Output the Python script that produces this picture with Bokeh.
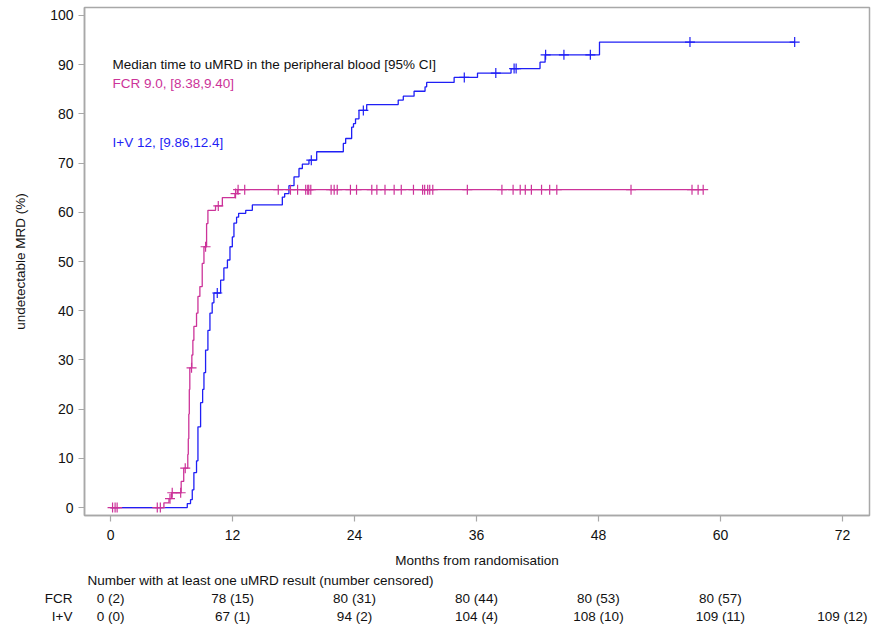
import numpy as np
from bokeh.plotting import figure
from bokeh.models import Range1d, FixedTicker, ColumnDataSource
from bokeh.layouts import column
from bokeh.embed import file_html
from bokeh.resources import INLINE
from bokeh.core.properties import value

FONT = "Liberation Sans"
FCR_COLOR = "#CC3399"
IV_COLOR = "#1F1FF5"
FRAME_COLOR = "#A8A8A8"
TXT = "#111111"
FS = "13.5px"

# ---- FCR arm: event times (months) and cumulative % with uMRD after each step
fcr_event_t = [5.25, 5.75, 6.0, 6.95, 7.2, 7.6, 7.65, 7.7, 7.75, 7.8, 8.0, 8.1, 8.2,
               8.46, 8.6, 8.79, 9.02, 9.19, 9.45, 9.58, 10.33, 11.0, 12.24, 12.47]
fcr_event_pct = [0.95, 1.8, 3.0, 5.3, 8.0, 10.8, 14.0, 19.0, 24.0, 28.4, 31.0, 34.0, 36.8,
                 39.5, 42.9, 44.9, 49.6, 53.0, 57.7, 60.4, 61.3, 63.0, 63.8, 64.6]
fcr_cens_t = [0.2, 0.45, 0.65, 4.6, 4.9, 5.85, 6.07, 6.9, 7.35, 7.97, 9.35, 10.6, 12.3,
              12.55, 13.2, 16.5, 17.7, 18.4, 19.2, 19.4, 19.5, 19.7, 21.7, 22.0, 22.3,
              23.6, 24.2, 25.7, 26.2, 27.0, 27.9, 28.6, 29.8, 30.7, 30.9, 31.2, 31.4,
              31.7, 35.1, 38.5, 39.6, 40.3, 40.8, 41.4, 42.4, 43.2, 43.9, 51.2, 57.2,
              57.8, 58.3]

# ---- I+V arm
iv_event_t = [7.55, 7.87, 8.04, 8.2, 8.46, 8.6, 8.86, 9.06, 9.19, 9.35, 9.58, 9.78,
              10.0, 10.17, 10.83, 11.15, 11.5, 11.75, 11.98, 12.14, 12.4, 12.6, 13.3,
              13.95, 16.9, 17.13, 17.55, 18.05, 18.54, 18.87, 19.52, 20.28, 22.9, 23.13,
              23.72, 23.9, 24.1, 24.44, 25.2, 28.3, 28.8, 29.86, 30.94, 31.1, 33.8,
              36.1, 39.4, 42.25, 42.75, 48.1]
iv_event_pct = [0.8, 1.6, 3.6, 7.1, 9.5, 16.4, 21.3, 24.0, 27.4, 32.0, 36.0, 39.5,
                41.6, 43.6, 46.2, 48.7, 50.3, 53.0, 55.0, 57.8, 59.0, 59.8, 60.4,
                61.5, 63.1, 63.8, 65.4, 67.2, 68.9, 69.8, 70.6, 72.3, 74.0, 75.0,
                77.3, 78.0, 79.0, 80.7, 81.9, 82.8, 83.6, 84.6, 85.5, 86.4, 87.4,
                88.3, 89.2, 90.5, 92.0, 94.6]
iv_cens_t = [10.5, 19.75, 24.87, 34.8, 37.9, 39.7, 39.9, 42.8, 44.6, 47.2, 57.0, 67.3]

# ---- risk table
risk_times = [0, 12, 24, 36, 48, 60, 72]
fcr_risk = ["0 (2)", "78 (15)", "80 (31)", "80 (44)", "80 (53)", "80 (57)", ""]
iv_risk = ["0 (0)", "67 (1)", "94 (2)", "104 (4)", "108 (10)", "109 (11)", "109 (12)"]
arm_names = ["FCR", "I+V"]
risk_header = "Number with at least one uMRD result (number censored)"

# ---- annotation texts
median_title = "Median time to uMRD in the peripheral blood [95% CI]"
fcr_median = "FCR 9.0, [8.38,9.40]"
iv_median = "I+V 12, [9.86,12.4]"

x_ticks = [0, 12, 24, 36, 48, 60, 72]
y_ticks = [0, 10, 20, 30, 40, 50, 60, 70, 80, 90, 100]

X0, X1 = -2.56, 74.66
Y0, Y1 = -1.62, 101.62
W = 879
BL, BR, BT = 84, 10, 7


def step_curve(ev_t, ev_p, end_t):
    xs = [0.0] + list(ev_t) + [end_t]
    ys = [0.0] + list(ev_p) + [ev_p[-1]]
    return xs, ys


def value_at(ev_t, ev_p, times):
    ev_t = np.asarray(ev_t)
    ev_p = np.asarray(ev_p)
    out = []
    for t in times:
        idx = np.searchsorted(ev_t, t, side="right") - 1
        out.append(0.0 if idx < 0 else float(ev_p[idx]))
    return out


xr = Range1d(X0, X1)
p = figure(width=W, height=570, x_range=xr, y_range=Range1d(Y0, Y1),
           output_backend="svg", toolbar_location=None,
           min_border_left=BL, min_border_right=BR, min_border_top=BT, min_border_bottom=54)
p.background_fill_color = "white"
p.border_fill_color = "white"
p.outline_line_color = FRAME_COLOR
p.outline_line_width = 1.5
p.xgrid.visible = False
p.ygrid.visible = False

for ax in (p.xaxis, p.yaxis):
    ax.axis_line_color = FRAME_COLOR
    ax.axis_line_width = 1.5
    ax.major_tick_line_color = FRAME_COLOR
    ax.major_tick_line_width = 1.2
    ax.major_tick_out = 6
    ax.major_tick_in = 0
    ax.minor_tick_line_color = None
    ax.major_label_text_font = FONT
    ax.major_label_text_font_size = "14px"
    ax.major_label_text_color = TXT
    ax.axis_label_text_font = FONT
    ax.axis_label_text_font_size = FS
    ax.axis_label_text_font_style = "normal"
    ax.axis_label_text_color = TXT

p.xaxis.ticker = FixedTicker(ticks=x_ticks)
p.yaxis.ticker = FixedTicker(ticks=y_ticks)
p.xaxis.axis_label = "Months from randomisation"
p.yaxis.axis_label = "undetectable MRD (%)"
p.xaxis.major_label_standoff = 8
p.xaxis.axis_label_standoff = 10
p.yaxis.major_label_standoff = 5
p.yaxis.axis_label_standoff = 19

# curves
fx, fy = step_curve(fcr_event_t, fcr_event_pct, max(fcr_cens_t))
ix, iy = step_curve(iv_event_t, iv_event_pct, max(iv_cens_t))
p.step(fx, fy, mode="after", line_color=FCR_COLOR, line_width=1.3)
p.step(ix, iy, mode="after", line_color=IV_COLOR, line_width=1.3)

p.scatter(fcr_cens_t, value_at(fcr_event_t, fcr_event_pct, fcr_cens_t), marker="cross",
          size=10, line_color=FCR_COLOR, line_width=1.2)
p.scatter(iv_cens_t, value_at(iv_event_t, iv_event_pct, iv_cens_t), marker="cross",
          size=10, line_color=IV_COLOR, line_width=1.2)

# median annotations
p.text(x=[0.2], y=[90.1], text=[median_title], text_font=value(FONT), text_font_size=FS,
       text_color=TXT, text_baseline="middle")
p.text(x=[0.2], y=[86.1], text=[fcr_median], text_font=value(FONT), text_font_size=FS,
       text_color=FCR_COLOR, text_baseline="middle")
p.text(x=[0.2], y=[74.1], text=[iv_median], text_font=value(FONT), text_font_size=FS,
       text_color=IV_COLOR, text_baseline="middle")

# ---- risk table figure, sharing the x scale; arm names drawn as its y-axis labels
sx = (W - BL - BR) / (X1 - X0)
row_y = [30, 12]
header_y = 48
t = figure(width=W, height=58, x_range=xr, y_range=Range1d(0, 58),
           output_backend="svg", toolbar_location=None,
           min_border_left=BL, min_border_right=BR, min_border_top=0, min_border_bottom=0)
t.xaxis.visible = False
t.xgrid.visible = False
t.ygrid.visible = False
t.outline_line_color = None
t.background_fill_color = "white"
t.border_fill_color = "white"
t.yaxis.ticker = FixedTicker(ticks=row_y)
t.yaxis.major_label_overrides = {yy: nm for yy, nm in zip(row_y, arm_names)}
t.yaxis.axis_line_color = None
t.yaxis.major_tick_line_color = None
t.yaxis.minor_tick_line_color = None
t.yaxis.major_tick_out = 0
t.yaxis.major_tick_in = 0
t.yaxis.major_label_standoff = 12
t.yaxis.major_label_text_font = FONT
t.yaxis.major_label_text_font_size = FS
t.yaxis.major_label_text_color = TXT

t.text(x=[X0 + 3 / sx], y=[header_y], text=[risk_header], text_font=value(FONT),
       text_font_size=FS, text_color=TXT, text_baseline="middle")
for vals, yy in zip([fcr_risk, iv_risk], row_y):
    src = ColumnDataSource(dict(x=risk_times, y=[yy] * len(risk_times), txt=vals))
    t.text(x="x", y="y", text="txt", source=src, text_font=value(FONT),
           text_font_size=FS, text_color=TXT, text_baseline="middle",
           text_align="center")

layout = column(p, t, spacing=0)
open("out.html", "w").write(file_html(layout, INLINE))
